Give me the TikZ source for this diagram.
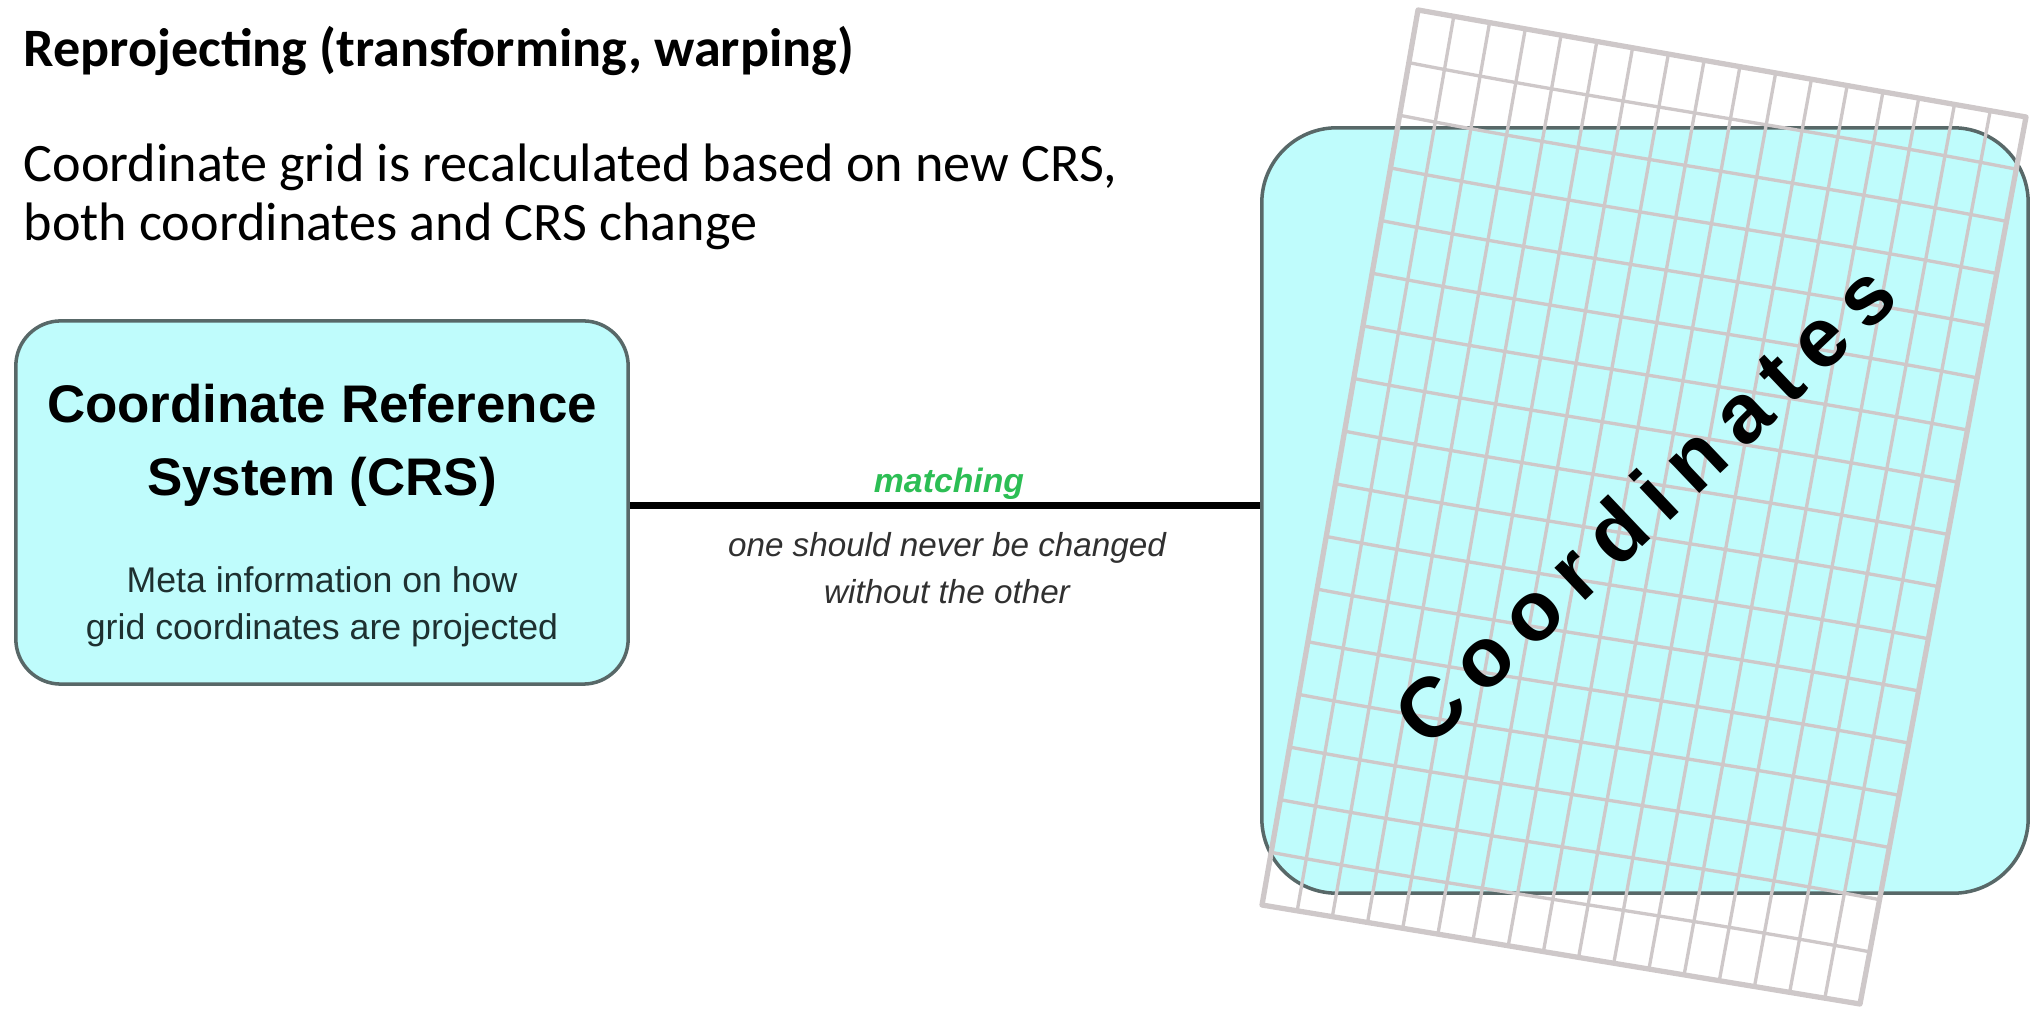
\documentclass[tikz,border=0pt]{standalone}
\usepackage{fontspec}
\usetikzlibrary{calc}
\setmainfont{Carlito}
\newfontfamily\arialfont{Liberation Sans}
\newfontfamily\spacedfont[LetterSpace=19]{Liberation Sans}

\definecolor{boxfill}{RGB}{191,252,252}
\definecolor{boxline}{RGB}{88,104,104}
\definecolor{gridgray}{RGB}{206,200,201}
\definecolor{matchgreen}{RGB}{44,190,84}
\definecolor{notegray}{RGB}{48,48,48}
\definecolor{desctext}{RGB}{30,48,48}

\tikzset{
  panel/.style={draw=boxline, fill=boxfill, line width=1pt},
  gridline/.style={draw=gridgray, line width=0.95pt},
  gridframe/.style={draw=gridgray, line width=1.5pt, line join=round},
  link/.style={draw=black, line width=2.1pt},
  plain/.style={inner sep=0pt, anchor=base},
  heading/.style={plain, font=\arialfont\bfseries\fontsize{15.05}{18}\selectfont},
  desc/.style={plain, text=desctext, font=\arialfont\fontsize{10.15}{12}\selectfont},
  note/.style={plain, text=notegray, font=\arialfont\itshape\fontsize{9.45}{12}\selectfont},
}

\begin{document}
\begin{tikzpicture}[x=0.01cm, y=-0.01cm]
  \useasboundingbox (0,0) rectangle (2030,1010);

  % slide text
  \node[plain, anchor=base west, font=\bfseries\fontsize{15.4}{18}\selectfont] (title) at (23,67)
    {Reprojecting (transforming, warping)};
  \node[plain, anchor=base west, font=\fontsize{15.4}{18}\selectfont] (sub1) at (23,182)
    {Coordinate grid is recalculated based on new CRS,};
  \node[plain, anchor=base west, font=\fontsize{15.4}{18}\selectfont] (sub2) at (23,241)
    {both coordinates and CRS change};

  % CRS box
  \node[panel, rounded corners=0.45cm, minimum width=6.12cm, minimum height=3.63cm] (crs) at (322,502.5) {};
  \node[heading] (crs1) at (322,423) {Coordinate Reference};
  \node[heading] (crs2) at (322,496) {System (CRS)};
  \node[desc] (crs3) at (322,593) {Meta information on how};
  \node[desc] (crs4) at (322,640) {grid coordinates are projected};

  % coordinates box
  \node[panel, rounded corners=0.75cm, minimum width=7.66cm, minimum height=7.65cm] (coords) at (1645,510.5) {};

  % warped coordinate grid, 17 x 17 cells between four corners
  \coordinate (gTL) at (1418,10);
  \coordinate (gTR) at (2026,117);
  \coordinate (gBL) at (1262,905);
  \coordinate (gBR) at (1860,1004);
  \foreach \i in {1,...,16}
    \draw[gridline] ($(gTL)!\i/17!(gTR)$) -- ($(gBL)!\i/17!(gBR)$);
  \foreach \j in {1,...,16}
    \draw[gridline] ($(gTL)!\j/17!(gBL)$)
      .. controls ($($(gTL)!\j/17!(gBL)$)!0.33!($(gTR)!\j/17!(gBR)$)+(0,4)$)
      and ($($(gTL)!\j/17!(gBL)$)!0.67!($(gTR)!\j/17!(gBR)$)+(0,-4)$)
      .. ($(gTR)!\j/17!(gBR)$);
  \draw[gridframe] (gTL) -- (gTR) -- (gBR) -- (gBL) -- cycle;

  \node[rotate=43.5, inner sep=0pt, font=\spacedfont\bfseries\fontsize{24}{28}\selectfont] (word) at (1644,504) {Coordinates};

  % link between the two boxes
  \draw[link] ([yshift=-0.03cm]crs.east) -- ([yshift=-0.03cm]crs.east -| coords.west);
  \node[plain, text=matchgreen, font=\arialfont\bfseries\itshape\fontsize{9.6}{12}\selectfont] (match) at (949,493) {matching};
  \node[note] (note1) at (947,557) {one should never be changed};
  \node[note] (note2) at (947,604) {without the other};
\end{tikzpicture}
\end{document}
